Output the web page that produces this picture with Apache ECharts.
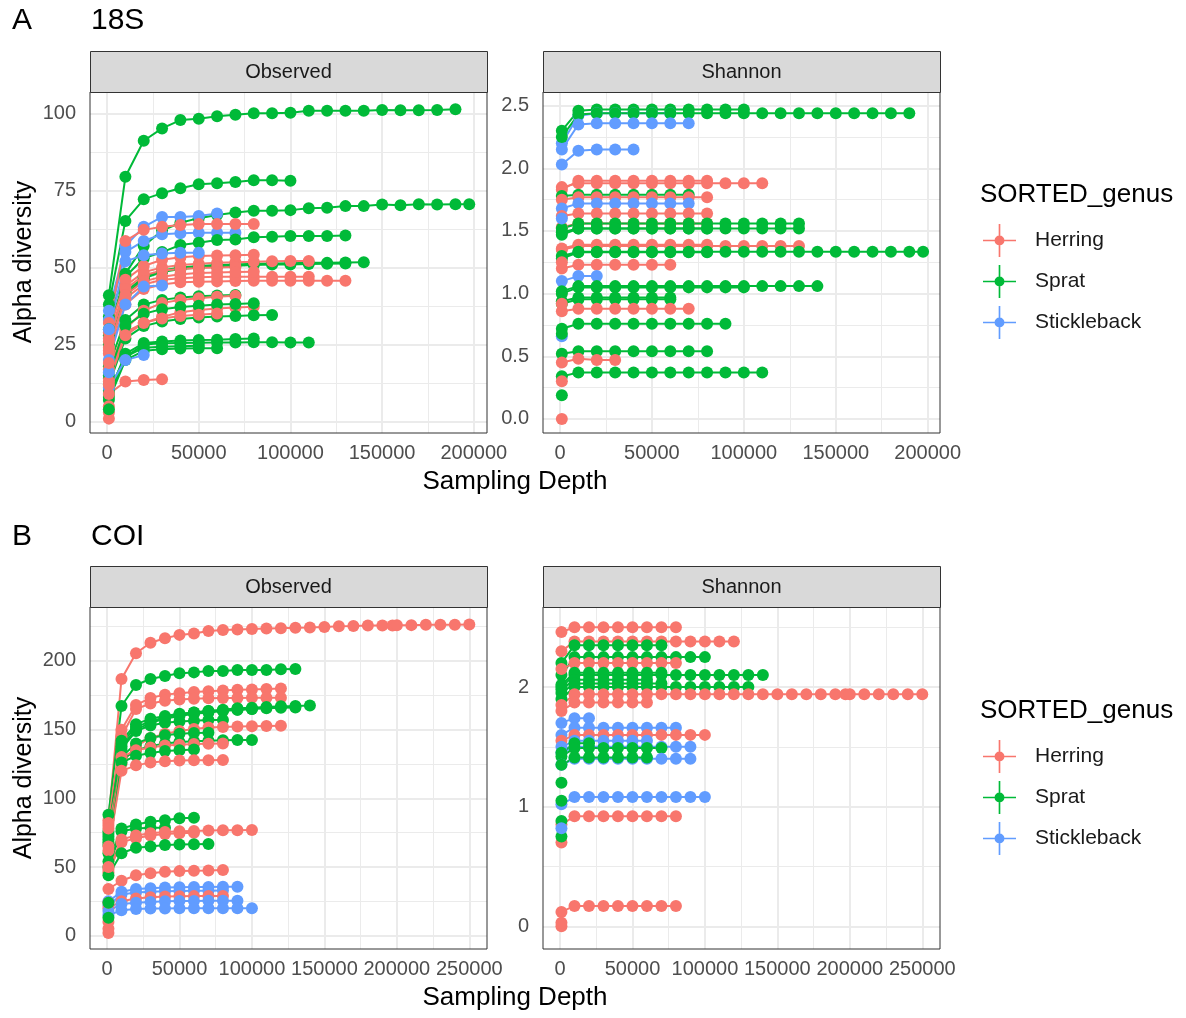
<!DOCTYPE html>
<html>
<head>
<meta charset="utf-8">
<script src="https://cdn.jsdelivr.net/npm/echarts@6/dist/echarts.min.js"></script>
<style>
  html, body { margin: 0; padding: 0; background: #fff; }
  #chart { width: 1186px; height: 1018px; }
</style>
</head>
<body>
<div id="chart"></div>
<script>
// rarefaction curves: first value at depth 1000, then one value every 10000 reads
const genera = ['Herring', 'Sprat', 'Stickleback'];
const genusColors = { Herring: '#F8766D', Sprat: '#00BA38', Stickleback: '#619CFF' };
const firstDepth = 1000;
const depthStep = 10000;

const xTicksA = [0, 50000, 100000, 150000, 200000];
const xMinorA = [25000, 75000, 125000, 175000];
const xTicksB = [0, 50000, 100000, 150000, 200000, 250000];
const xMinorB = [25000, 75000, 125000, 175000, 225000];
const yTicksObs18S = [0, 25, 50, 75, 100];
const yMinorObs18S = [12.5, 37.5, 62.5, 87.5];
const yTicksShan18S = [0, 0.5, 1, 1.5, 2, 2.5];
const yMinorShan18S = [0.25, 0.75, 1.25, 1.75, 2.25];
const yTicksObsCOI = [0, 50, 100, 150, 200];
const yMinorObsCOI = [25, 75, 125, 175, 225];
const yTicksShanCOI = [0, 1, 2];
const yMinorShanCOI = [0.5, 1.5, 2.5];

// 18S - Observed
const obs18S = [
  ['Sprat', [41, 79.4, 91.1, 95.1, 97.8, 98.2, 99.0, 99.5, 100.0, 100.0, 100.2, 100.8, 100.8, 100.8, 100.8, 101.1, 101.0, 101.0, 101.1, 101.3]],
  ['Sprat', [38, 65.1, 72.1, 74.1, 75.7, 77.0, 77.3, 77.7, 78.3, 78.3, 78.1]],
  ['Sprat', [34, 48, 57, 62, 64.5, 66.0, 67.0, 67.8, 68.4, 68.4, 68.6, 69.2, 69.4, 69.9, 69.9, 70.4, 70.2, 70.5, 70.4, 70.5], [[197500, 70.5]]],
  ['Stickleback', [36, 57, 63.2, 66.4, 66.4, 66.7, 67.5]],
  ['Stickleback', [33, 55, 58.6, 60.8, 61.1, 61.3, 61.3, 61.3]],
  ['Herring', [32, 58.6, 62.2, 63.2, 63.8, 64.1, 64.1, 64.1, 64.1]],
  ['Sprat', [30, 47, 53, 55, 57.3, 58.0, 58.9, 59.1, 59.8, 60.0, 60.2, 60.2, 60.2, 60.4]],
  ['Sprat', [28, 42, 47, 49, 50.0, 50.5, 50.8, 51.0, 51.2, 51.3, 51.4, 51.5, 51.5, 51.6, 51.7]],
  ['Sprat', [25, 41, 46.5, 48.5, 49.5, 50.0, 50.3, 50.6, 50.8, 51.0, 51.0, 51.1, 51.2, 51.3]],
  ['Herring', [27, 44, 48.5, 50.0, 50.8, 51.2, 51.5, 51.7, 51.9, 52.0, 52.1, 52.1]],
  ['Herring', [22, 38, 43, 44.5, 45.2, 45.4, 45.5, 45.6, 45.7, 45.7, 45.7, 45.7, 45.7, 45.7]],
  ['Herring', [24, 40, 44.5, 46.0, 46.5, 46.8, 47.0, 47.0, 47.0, 47.0, 47.0, 47.0]],
  ['Herring', [29, 46, 50.5, 52.5, 53.3, 53.7, 53.9, 54.0, 54.1]],
  ['Stickleback', [30, 52, 54.0, 54.5, 54.8, 54.8]],
  ['Herring', [26, 43, 47.5, 49.0, 49.5, 49.8, 50.0, 50.2]],
  ['Herring', [23, 41, 45.5, 47.0, 47.8, 48.2, 48.4, 48.5, 48.6]],
  ['Stickleback', [20, 38, 43.8, 44.2]],
  ['Sprat', [18, 33, 38, 39.5, 40.3, 40.7, 40.9, 41.1]],
  ['Herring', [17, 30, 36, 38.5, 39.5, 40.0, 40.5, 40.8]],
  ['Herring', [14, 29, 32, 34.0, 35.5, 36.2, 36.7, 37.0, 37.3]],
  ['Sprat', [15, 31, 35, 36.5, 37.2, 37.6, 38.0, 38.2, 38.4]],
  ['Sprat', [12, 27, 31, 32.5, 33.3, 33.8, 34.1, 34.3, 34.5, 34.6]],
  ['Herring', [13, 28, 32, 33.5, 34.3, 34.7, 35.1]],
  ['Sprat', [10, 21, 25, 25.4, 25.5, 25.6, 25.7, 25.7, 25.8, 25.8, 25.7, 25.7]],
  ['Sprat', [9, 22, 25.5, 26.0, 26.3, 26.5, 26.6, 26.8, 27.0]],
  ['Sprat', [7, 20, 23, 23.5, 23.7, 23.8, 23.8]],
  ['Sprat', [8, 21, 24, 24.3, 24.5, 24.6]],
  ['Stickleback', [11, 20, 21.6]],
  ['Herring', [9, 13, 13.5, 13.8]],
  ['Herring', [1]], ['Herring', [3]], ['Herring', [5]], ['Sprat', [4]],
  ['Herring', [12]], ['Stickleback', [16]], ['Herring', [19]]
];

// 18S - Shannon
const shan18S = [
  ['Sprat', [2.30, 2.46, 2.47, 2.47, 2.47, 2.47, 2.47, 2.47, 2.47, 2.47, 2.47]],
  ['Stickleback', [2.20, 2.42, 2.44, 2.44, 2.44, 2.44, 2.44]],
  ['Sprat', [2.25, 2.43, 2.44, 2.44, 2.44, 2.44, 2.44, 2.44, 2.44, 2.44, 2.44, 2.44, 2.44, 2.44, 2.44, 2.44, 2.44, 2.44, 2.44, 2.44]],
  ['Stickleback', [2.15, 2.35, 2.36, 2.36, 2.36, 2.36, 2.36, 2.36]],
  ['Stickleback', [2.03, 2.14, 2.15, 2.15, 2.15]],
  ['Herring', [1.85, 1.88, 1.88, 1.88, 1.88, 1.88, 1.88, 1.88, 1.88, 1.88, 1.88, 1.88]],
  ['Herring', [1.83, 1.90, 1.90, 1.90, 1.90, 1.90, 1.90, 1.90, 1.90]],
  ['Sprat', [1.78, 1.79, 1.79, 1.79, 1.79, 1.79, 1.79, 1.79]],
  ['Herring', [1.75, 1.77, 1.77, 1.77, 1.77, 1.77, 1.77, 1.77, 1.77]],
  ['Stickleback', [1.68, 1.72, 1.72, 1.72, 1.72, 1.72, 1.72, 1.72]],
  ['Herring', [1.62, 1.64, 1.64, 1.64, 1.64, 1.64, 1.64, 1.64, 1.64]],
  ['Herring', [1.53, 1.56, 1.56, 1.56, 1.56, 1.56, 1.56, 1.56, 1.56]],
  ['Sprat', [1.52, 1.56, 1.56, 1.56, 1.56, 1.56, 1.56, 1.56, 1.56, 1.56, 1.56, 1.56, 1.56, 1.56]],
  ['Sprat', [1.49, 1.52, 1.52, 1.52, 1.52, 1.52, 1.52, 1.52, 1.52, 1.52, 1.52, 1.52, 1.52, 1.52]],
  ['Sprat', [1.47, 1.52, 1.52, 1.52, 1.52, 1.52, 1.52, 1.52, 1.52]],
  ['Herring', [1.35, 1.38, 1.38, 1.38, 1.38, 1.38, 1.38, 1.38, 1.38, 1.38, 1.38, 1.38, 1.38, 1.38]],
  ['Herring', [1.36, 1.39, 1.39, 1.39, 1.39, 1.39, 1.39, 1.39, 1.39]],
  ['Sprat', [1.30, 1.335, 1.335, 1.335, 1.335, 1.335, 1.335, 1.335, 1.335, 1.335, 1.335, 1.335, 1.335, 1.335, 1.335, 1.335, 1.335, 1.335, 1.335, 1.335], [[197500, 1.335]]],
  ['Sprat', [1.28, 1.33, 1.33, 1.33, 1.33, 1.33, 1.33, 1.33, 1.33]],
  ['Herring', [1.20, 1.23, 1.23, 1.23, 1.23, 1.23, 1.23]],
  ['Stickleback', [1.10, 1.14, 1.14]],
  ['Sprat', [1.02, 1.06, 1.06, 1.06, 1.06, 1.06, 1.06, 1.06, 1.06, 1.06, 1.06, 1.06, 1.06, 1.06, 1.06]],
  ['Sprat', [1.00, 1.05, 1.05, 1.05, 1.05, 1.05, 1.05, 1.05, 1.05, 1.05, 1.05]],
  ['Sprat', [0.94, 0.97, 0.97, 0.97, 0.97, 0.97, 0.97]],
  ['Sprat', [0.92, 0.955, 0.955, 0.955, 0.955, 0.955, 0.955]],
  ['Herring', [0.86, 0.88, 0.88, 0.88, 0.88, 0.88, 0.88, 0.88]],
  ['Sprat', [0.72, 0.76, 0.76, 0.76, 0.76, 0.76, 0.76, 0.76, 0.76, 0.76]],
  ['Sprat', [0.52, 0.54, 0.54, 0.54, 0.54, 0.54, 0.54, 0.54, 0.54]],
  ['Herring', [0.45, 0.48, 0.47, 0.47]],
  ['Sprat', [0.34, 0.37, 0.37, 0.37, 0.37, 0.37, 0.37, 0.37, 0.37, 0.37, 0.37, 0.37]],
  ['Herring', [0.0]], ['Herring', [0.30]], ['Sprat', [0.19]], ['Stickleback', [0.66]],
  ['Herring', [0.92]], ['Stickleback', [1.60]], ['Herring', [1.25]], ['Sprat', [0.68]]
];

// COI - Observed
const obsCOI = [
  ['Herring', [84, 186.9, 205.6, 213.3, 216.5, 219.0, 220.0, 221.8, 222.6, 223.0, 223.3, 223.6, 223.9, 224.2, 224.3, 224.8, 225.3, 225.5, 225.9, 225.9, 226.0, 226.1, 226.3, 226.3, 226.3, 226.6], [[197000, 225.9]]],
  ['Sprat', [88, 167.2, 182.5, 186.9, 189.0, 191.0, 191.7, 192.7, 192.7, 193.4, 193.4, 193.4, 194.0, 194.2]],
  ['Herring', [82, 150, 168, 173, 175.5, 176.5, 177.5, 178.0, 178.5, 179.0, 179.3, 179.6, 180.0]],
  ['Herring', [80, 145, 165, 169, 171, 172, 172.5, 172.8, 173.0, 173.1, 173.2, 173.3, 173.3]],
  ['Sprat', [76, 140, 152, 156, 159, 161, 162.5, 163.5, 164.5, 165.5, 166.0, 166.5, 167.0, 167.2, 167.5]],
  ['Sprat', [74, 138, 150, 155, 158, 160, 161.5, 162.5, 163.5, 164.5, 165.0, 165.5, 166.0, 166.2]],
  ['Sprat', [72, 142, 154, 158, 160, 161.5, 162.5, 163.5, 164.0, 164.5, 165.0]],
  ['Sprat', [70, 136, 149, 153, 155, 156, 156.5, 157.0, 157.0]],
  ['Herring', [78, 125, 138, 144, 147, 149, 150.5, 151.5, 152.0, 152.3, 152.5, 152.7, 152.9]],
  ['Sprat', [68, 130, 140, 144, 146, 147, 147.5, 147.8]],
  ['Sprat', [66, 128, 135, 138, 140, 141, 141.5, 142.0, 142.2, 142.4, 142.5]],
  ['Herring', [65, 130, 135, 137, 138.5, 139.0, 139.5, 139.8, 140.0]],
  ['Sprat', [60, 126, 131, 133, 134.5, 135.0, 135.5]],
  ['Herring', [62, 120, 124, 126, 127, 127.5, 127.7, 127.8, 127.9]],
  ['Sprat', [54, 78, 81, 83, 84, 85.5, 85.9]],
  ['Sprat', [50, 76, 78, 78.5, 78.5]],
  ['Herring', [48, 70, 73, 74.5, 75.5, 76.0, 76.3, 76.5, 76.7, 76.8, 76.9]],
  ['Herring', [46, 68, 71, 73, 74, 74.5, 75.0]],
  ['Sprat', [44, 60, 64, 65, 66, 66.3, 66.5, 66.7]],
  ['Herring', [34, 40, 44, 45.5, 46.5, 47.0, 47.3, 47.5, 47.8]],
  ['Stickleback', [25, 32, 34, 34.5, 35.0, 35.2, 35.4, 35.5, 35.6, 35.7]],
  ['Stickleback', [22, 30, 31.5, 32.0, 32.3, 32.5, 32.7, 32.8, 32.9]],
  ['Herring', [20, 25, 27, 28, 28.5, 28.7, 28.8, 28.9, 28.9]],
  ['Stickleback', [18, 23, 24, 24.5, 25.0, 25.2, 25.3, 25.4, 25.5, 25.5]],
  ['Stickleback', [15, 18.5, 19.5, 19.7, 19.8, 19.9, 19.9, 19.9, 19.9, 19.9, 19.9]],
  ['Herring', [2]], ['Herring', [5]], ['Herring', [10]], ['Sprat', [13]],
  ['Herring', [24]], ['Sprat', [24]], ['Herring', [50]]
];

// COI - Shannon
const shanCOI = [
  ['Herring', [2.46, 2.50, 2.50, 2.50, 2.50, 2.50, 2.50, 2.50, 2.50]],
  ['Herring', [2.30, 2.38, 2.38, 2.38, 2.38, 2.38, 2.38, 2.38, 2.38, 2.38, 2.38, 2.38, 2.38]],
  ['Sprat', [2.20, 2.35, 2.35, 2.35, 2.35, 2.35, 2.35, 2.35]],
  ['Sprat', [2.10, 2.25, 2.25, 2.25, 2.25, 2.25, 2.25, 2.25, 2.25, 2.25, 2.25]],
  ['Herring', [2.15, 2.20, 2.20, 2.20, 2.20, 2.20, 2.20, 2.20, 2.20]],
  ['Sprat', [2.00, 2.10, 2.10, 2.10, 2.10, 2.10, 2.10, 2.10, 2.10, 2.10, 2.10, 2.10, 2.10, 2.10, 2.10]],
  ['Sprat', [2.02, 2.12, 2.12, 2.12, 2.12, 2.12, 2.12, 2.12]],
  ['Sprat', [1.98, 2.06, 2.06, 2.06, 2.06, 2.06, 2.06]],
  ['Sprat', [1.95, 2.03, 2.03, 2.03, 2.03, 2.03, 2.03, 2.03]],
  ['Sprat', [1.90, 2.00, 2.00, 2.00, 2.00, 2.00, 2.00, 2.00, 2.00, 2.00, 2.00, 2.00, 2.00, 2.00]],
  ['Herring', [1.85, 1.94, 1.94, 1.94, 1.94, 1.94, 1.94, 1.94, 1.94, 1.94, 1.94, 1.94, 1.94, 1.94, 1.94, 1.94, 1.94, 1.94, 1.94, 1.94, 1.94, 1.94, 1.94, 1.94, 1.94, 1.94], [[197000, 1.94]]],
  ['Herring', [1.80, 1.87, 1.87, 1.87, 1.87, 1.87, 1.87]],
  ['Stickleback', [1.70, 1.74, 1.74]],
  ['Stickleback', [1.60, 1.66, 1.66, 1.66, 1.66, 1.66, 1.66, 1.66, 1.66]],
  ['Herring', [1.55, 1.60, 1.60, 1.60, 1.60, 1.60, 1.60, 1.60, 1.60, 1.60, 1.60]],
  ['Stickleback', [1.50, 1.55, 1.55, 1.55, 1.55, 1.55, 1.55]],
  ['Stickleback', [1.45, 1.50, 1.50, 1.50, 1.50, 1.50, 1.50, 1.50, 1.50, 1.50]],
  ['Sprat', [1.45, 1.53, 1.53]],
  ['Sprat', [1.42, 1.49, 1.49, 1.49, 1.49, 1.49, 1.49, 1.49]],
  ['Stickleback', [1.35, 1.40, 1.40, 1.40, 1.40, 1.40, 1.40, 1.40, 1.40, 1.40]],
  ['Sprat', [1.35, 1.41, 1.41, 1.41, 1.41, 1.41, 1.41]],
  ['Stickleback', [1.02, 1.08, 1.08, 1.08, 1.08, 1.08, 1.08, 1.08, 1.08, 1.08, 1.08]],
  ['Herring', [0.85, 0.92, 0.92, 0.92, 0.92, 0.92, 0.92, 0.92, 0.92]],
  ['Herring', [0.12, 0.17, 0.17, 0.17, 0.17, 0.17, 0.17, 0.17, 0.17]],
  ['Herring', [0.0]], ['Herring', [0.03]], ['Herring', [0.70]], ['Sprat', [0.75]],
  ['Sprat', [0.88]], ['Sprat', [1.05]], ['Sprat', [1.20]], ['Stickleback', [0.82]]
];

const FONT = '"Liberation Sans", Arial, Helvetica, sans-serif';
// legend key: horizontal line, vertical line and a dot
const keyIcon = 'path://M0 19H40V21H0Z M19 0H21V40H19Z M26 20A6 6 0 1 1 14 20A6 6 0 1 1 26 20Z';

function toPoints(vals, extra) {
  let pts = vals.map((v, i) => [i === 0 ? firstDepth : i * depthStep, v]);
  if (extra) pts = pts.concat(extra);
  return pts.sort((a, b) => a[0] - b[0]);
}

function curveSeries(curves, idx) {
  return curves.map(c => ({
    type: 'line',
    name: c[0],
    xAxisIndex: idx,
    yAxisIndex: idx,
    data: toPoints(c[1], c[2]),
    symbol: 'circle',
    symbolSize: 12,
    showSymbol: true,
    lineStyle: { width: 2, color: genusColors[c[0]] },
    itemStyle: { color: genusColors[c[0]] },
    emphasis: { disabled: true },
    z: 3
  }));
}

// panel grid lines, drawn under the curves
function gridLines(idx, xMaj, xMin, yMaj, yMin) {
  const minor = { color: '#EBEBEB', width: 1, type: 'solid' };
  const major = { color: '#EBEBEB', width: 2, type: 'solid' };
  const d = [];
  xMin.forEach(v => d.push({ xAxis: v, lineStyle: minor }));
  yMin.forEach(v => d.push({ yAxis: v, lineStyle: minor }));
  xMaj.forEach(v => d.push({ xAxis: v, lineStyle: major }));
  yMaj.forEach(v => d.push({ yAxis: v, lineStyle: major }));
  return {
    type: 'line', xAxisIndex: idx, yAxisIndex: idx, data: [], silent: true, z: 1,
    markLine: { silent: true, z: 1, symbol: ['none', 'none'], label: { show: false }, animation: false, data: d }
  };
}

const grids = [
  { left: 90, top: 92, width: 397, height: 341 },
  { left: 543, top: 92, width: 397, height: 341 },
  { left: 90, top: 607, width: 397, height: 342 },
  { left: 543, top: 607, width: 397, height: 342 }
].map(g => Object.assign(g, { show: true, borderColor: '#333333', borderWidth: 1, backgroundColor: 'rgba(0,0,0,0)', z: 10 }));

function xAxis(idx, min, max, ticks) {
  return {
    type: 'value', gridIndex: idx, min: min, max: max,
    axisLine: { show: false }, splitLine: { show: false },
    axisTick: { show: true, length: 6, customValues: ticks, lineStyle: { color: '#333333', width: 1 } },
    axisLabel: { customValues: ticks, interval: 0, fontSize: 20, color: '#4D4D4D', fontFamily: FONT, margin: 10,
      formatter: v => String(v) }
  };
}
function yAxis(idx, min, max, ticks, fmt) {
  return {
    type: 'value', gridIndex: idx, min: min, max: max,
    axisLine: { show: false }, splitLine: { show: false },
    axisTick: { show: true, length: 6, customValues: ticks, lineStyle: { color: '#333333', width: 1 } },
    axisLabel: { customValues: ticks, interval: 0, fontSize: 20, color: '#4D4D4D', fontFamily: FONT, margin: 14,
      formatter: fmt }
  };
}

function strip(x, y, label) {
  return [
    { type: 'rect', shape: { x: x + 0.5, y: y + 0.5, width: 397, height: 41 }, style: { fill: '#D9D9D9', stroke: '#333333', lineWidth: 1 }, z: 20 },
    { type: 'text', x: x + 198.5, y: y + 21, style: { text: label, font: '20px ' + FONT, fill: '#1A1A1A', align: 'center', verticalAlign: 'middle' }, z: 21 }
  ];
}
function yTitle(y) {
  return { type: 'text', x: 24, y: y, rotation: Math.PI / 2,
    style: { text: 'Alpha diversity', font: '25px ' + FONT, fill: '#000', align: 'center', verticalAlign: 'middle' } };
}

function legendAt(top) {
  return {
    data: genera, orient: 'vertical', left: 983, top: top, padding: 0,
    itemWidth: 33, itemHeight: 33, itemGap: 8, icon: keyIcon, selectedMode: false,
    itemStyle: { borderWidth: 0 },
    textStyle: { fontSize: 21, color: '#1A1A1A', fontFamily: FONT, padding: [0, 0, 0, 14] }
  };
}
function textTitle(text, left, top, size, align) {
  return { text: text, left: left, top: top, padding: 0, textAlign: align || 'left',
    textStyle: { fontSize: size, fontWeight: 'normal', color: '#000', fontFamily: FONT } };
}

const option = {
  backgroundColor: '#fff',
  animation: false,
  title: [
    textTitle('A', 12, 6, 30), textTitle('18S', 91, 6, 30),
    textTitle('B', 12, 522, 30), textTitle('COI', 91, 522, 30),
    textTitle('SORTED_genus', 980, 182, 26), textTitle('SORTED_genus', 980, 698, 26),
    textTitle('Sampling Depth', 515, 469, 26, 'center'), textTitle('Sampling Depth', 515, 985, 26, 'center')
  ],
  legend: [legendAt(224), legendAt(740)],
  grid: grids,
  xAxis: [
    xAxis(0, -9300, 207200, xTicksA),
    xAxis(1, -9250, 206700, xTicksA),
    xAxis(2, -11730, 262200, xTicksB),
    xAxis(3, -11730, 262240, xTicksB)
  ],
  yAxis: [
    yAxis(0, -3.66, 106.9, yTicksObs18S, v => String(v)),
    yAxis(1, -0.112, 2.609, yTicksShan18S, v => v.toFixed(1)),
    yAxis(2, -9.7, 239.3, yTicksObsCOI, v => String(v)),
    yAxis(3, -0.19, 2.669, yTicksShanCOI, v => String(v))
  ],
  graphic: [].concat(
    strip(90, 51, 'Observed'), strip(543, 51, 'Shannon'),
    strip(90, 566, 'Observed'), strip(543, 566, 'Shannon'),
    [yTitle(262), yTitle(778)]
  ),
  series: [].concat(
    gridLines(0, xTicksA, xMinorA, yTicksObs18S, yMinorObs18S),
    gridLines(1, xTicksA, xMinorA, yTicksShan18S, yMinorShan18S),
    gridLines(2, xTicksB, xMinorB, yTicksObsCOI, yMinorObsCOI),
    gridLines(3, xTicksB, xMinorB, yTicksShanCOI, yMinorShanCOI),
    curveSeries(obs18S, 0),
    curveSeries(shan18S, 1),
    curveSeries(obsCOI, 2),
    curveSeries(shanCOI, 3)
  )
};

const chart = echarts.init(document.getElementById('chart'), null, { renderer: 'canvas' });
chart.setOption(option);
</script>
</body>
</html>
